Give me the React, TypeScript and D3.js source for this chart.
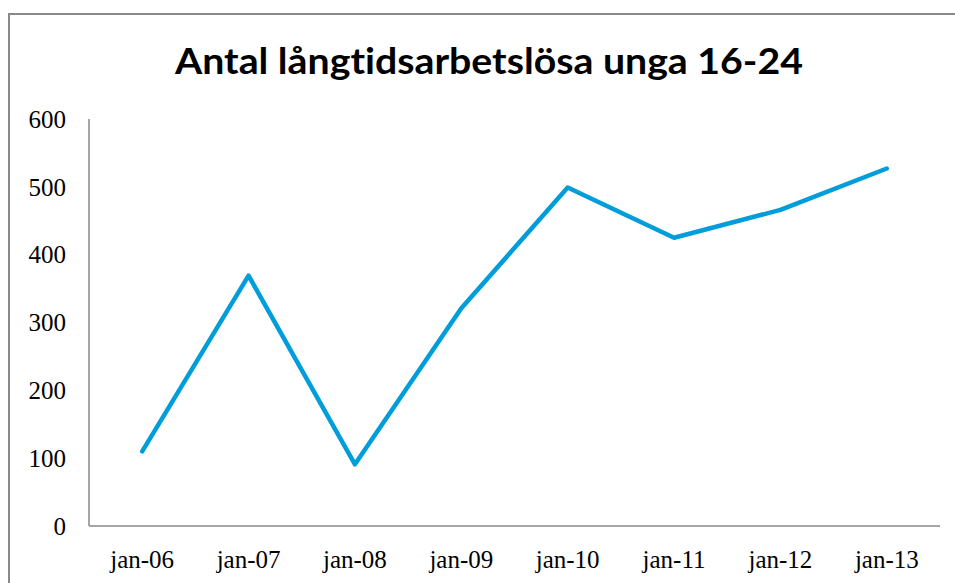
import React from "react";
import * as d3 from "d3";

const categories = ["jan-06", "jan-07", "jan-08", "jan-09", "jan-10", "jan-11", "jan-12", "jan-13"];
const values = [110, 369, 91, 321, 499, 425, 466, 527];
const yTicks = [0, 100, 200, 300, 400, 500, 600];
const title = "Antal långtidsarbetslösa unga 16-24";

const W = 955;
const H = 583;
const left = 89;
const right = 940;
const top = 119;
const bottom = 526;

export default function App() {
  const x = d3.scaleBand<string>().domain(categories).range([left, right]).padding(0);
  const y = d3.scaleLinear().domain([0, 600]).range([bottom, top]);
  const line = d3
    .line<number>()
    .x((_, i) => (x(categories[i]) as number) + x.bandwidth() / 2)
    .y((d) => y(d));

  return (
    <svg
      width={W}
      height={H}
      style={{ position: "absolute", left: 0, top: 0, background: "#fff" }}
    >
      <rect x={9} y={14} width={W + 20} height={H + 20} fill="#fff" stroke="#898989" strokeWidth={2} />
      <text
        x={489}
        y={74}
        textAnchor="middle"
        fontFamily="Lato, 'Open Sans', sans-serif"
        fontWeight="bold"
        fontSize={37}
        textLength={628}
        lengthAdjust="spacingAndGlyphs"
        style={{ fontVariantLigatures: "none" }}
        fill="#000"
      >
        {title}
      </text>
      <line x1={left} x2={left} y1={top} y2={bottom} stroke="#898989" strokeWidth={1.5} />
      <line x1={left} x2={right} y1={bottom} y2={bottom} stroke="#898989" strokeWidth={1.5} />
      {yTicks.map((t) => (
        <text
          key={t}
          x={66}
          y={y(t)}
          dy="0.35em"
          textAnchor="end"
          fontFamily="'Liberation Serif', 'Times New Roman', serif"
          fontSize={25}
          fill="#000"
        >
          {t}
        </text>
      ))}
      {categories.map((c) => (
        <text
          key={c}
          x={(x(c) as number) + x.bandwidth() / 2}
          y={568}
          textAnchor="middle"
          fontFamily="'Liberation Serif', 'Times New Roman', serif"
          fontSize={25}
          fill="#000"
        >
          {c}
        </text>
      ))}
      <path
        d={line(values) || ""}
        fill="none"
        stroke="#009DDB"
        strokeWidth={4.5}
        strokeLinejoin="round"
        strokeLinecap="round"
      />
    </svg>
  );
}
